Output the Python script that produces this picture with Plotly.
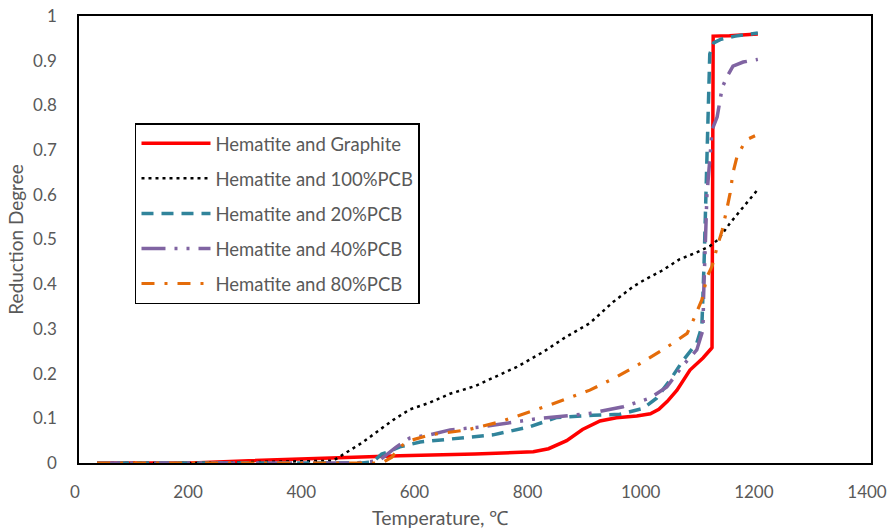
import plotly.graph_objects as go

# Temperature (°C) and reduction degree for each mixture
t_graphite = [32, 200, 300, 391, 449, 567, 700, 803, 830, 862, 890, 921, 950, 986, 1010, 1025,
              1040, 1057, 1080, 1103, 1117, 1119, 1121, 1150, 1200]
y_graphite = [0, 0, 0.005, 0.009, 0.012, 0.016, 0.02, 0.025, 0.032, 0.05, 0.075, 0.094, 0.101,
              0.105, 0.11, 0.12, 0.138, 0.163, 0.208, 0.235, 0.255, 0.258, 0.955, 0.956, 0.96]

t_pcb100 = [32, 200, 300, 400, 449, 500, 555, 585, 620, 656, 700, 774, 820, 862, 903, 944, 980,
            1000, 1030, 1062, 1090, 1115, 1130, 1151, 1175, 1200]
y_pcb100 = [0, 0, 0.002, 0.003, 0.005, 0.045, 0.096, 0.12, 0.135, 0.155, 0.172, 0.215, 0.248,
            0.283, 0.313, 0.36, 0.395, 0.41, 0.43, 0.456, 0.47, 0.485, 0.5, 0.537, 0.575, 0.612]

t_pcb20 = [32, 200, 400, 500, 520, 535, 545, 567, 603, 656, 732, 797, 845, 909, 956, 997, 1021,
           1045, 1068, 1092, 1101, 1105, 1108, 1112, 1115, 1122, 1135, 1160, 1200]
y_pcb20 = [0, 0, 0, 0, 0.003, 0.02, 0.024, 0.036, 0.047, 0.054, 0.063, 0.081, 0.102, 0.107, 0.109,
           0.122, 0.145, 0.186, 0.23, 0.268, 0.305, 0.45, 0.6, 0.8, 0.915, 0.94, 0.948, 0.955, 0.962]

t_pcb40 = [32, 200, 400, 490, 530, 560, 585, 620, 656, 714, 803, 903, 962, 1009, 1039, 1068, 1092,
           1103, 1104, 1106, 1110, 1115, 1119, 1128, 1137, 1145, 1156, 1174, 1200]
y_pcb40 = [0, 0, 0, 0, 0.005, 0.035, 0.056, 0.063, 0.074, 0.081, 0.098, 0.111, 0.126, 0.145, 0.17,
           0.219, 0.253, 0.298, 0.37, 0.47, 0.6, 0.678, 0.745, 0.774, 0.84, 0.863, 0.888, 0.897, 0.903]

t_pcb80 = [32, 200, 400, 535, 553, 567, 585, 620, 686, 744, 833, 903, 951, 997, 1045, 1075, 1086,
           1101, 1110, 1119, 1128, 1137, 1146, 1151, 1156, 1163, 1174, 1183, 1195]
y_pcb80 = [0, 0, 0, 0, 0.013, 0.036, 0.05, 0.063, 0.074, 0.092, 0.13, 0.163, 0.193, 0.226, 0.264,
           0.29, 0.32, 0.365, 0.416, 0.44, 0.483, 0.521, 0.573, 0.604, 0.649, 0.685, 0.711, 0.725, 0.732]

series_names = ["Hematite and Graphite", "Hematite and 100%PCB", "Hematite and 20%PCB",
                "Hematite and 40%PCB", "Hematite and 80%PCB"]

x_ticks = [0, 200, 400, 600, 800, 1000, 1200, 1400]
y_ticks = [0, 0.1, 0.2, 0.3, 0.4, 0.5, 0.6, 0.7, 0.8, 0.9, 1]
y_tick_text = ["0", "0.1", "0.2", "0.3", "0.4", "0.5", "0.6", "0.7", "0.8", "0.9", "1"]

styles = [
    dict(color="#FF0000", width=3.5, dash="solid"),
    dict(color="#000000", width=2.5, dash="3px,4px"),
    dict(color="#31849B", width=3.5, dash="12px,8px"),
    dict(color="#8064A2", width=3.5, dash="24px,9px,3px,9px,3px,9px"),
    dict(color="#E46C0A", width=3.2, dash="13px,10px,3px,10px"),
]

data = [(t_graphite, y_graphite), (t_pcb100, y_pcb100), (t_pcb20, y_pcb20),
        (t_pcb40, y_pcb40), (t_pcb80, y_pcb80)]

FONT = "Lato"
GREY = "#595959"
TICK_FS = 17
LEG_FS = 18.5

fig = go.Figure()
for i, ((tx, ty), name, st) in enumerate(zip(data, series_names, styles)):
    fig.add_trace(go.Scatter(
        x=tx, y=ty, mode="lines", name=name, legendgroup=f"g{i}",
        line=dict(color=st["color"], width=st["width"], dash=st["dash"]),
    ))

fig.update_layout(
    width=888, height=530,
    margin=dict(l=79, r=17, t=16, b=67, autoexpand=False),
    paper_bgcolor="white", plot_bgcolor="white",
    font=dict(family=FONT, color=GREY, size=TICK_FS),
    showlegend=True,
    legend=dict(
        x=0.0707, y=0.76, xanchor="left", yanchor="top",
        bgcolor="white", bordercolor="#000000", borderwidth=1.5,
        font=dict(family=FONT, size=LEG_FS, color=GREY),
        tracegroupgap=8, itemwidth=69,
    ),
    xaxis=dict(
        range=[0, 1400], tickvals=x_ticks, ticktext=[str(v) for v in x_ticks],
        showgrid=False, zeroline=False, showline=True, linecolor="#000000", linewidth=1.5,
        mirror=True, ticks="", ticklabelstandoff=13, ticklabelshift=-4,
        ticklabeloverflow="allow", automargin=False,
        tickfont=dict(family=FONT, size=TICK_FS, color=GREY),
    ),
    yaxis=dict(
        range=[0, 1], tickvals=y_ticks, ticktext=y_tick_text,
        showgrid=False, zeroline=False, showline=True, linecolor="#000000", linewidth=1.5,
        mirror=True, ticks="", ticklabelstandoff=17, automargin=False,
        tickfont=dict(family=FONT, size=TICK_FS, color=GREY),
        title=dict(text="Reduction Degree", font=dict(family=FONT, size=19, color=GREY), standoff=4),
    ),
    annotations=[dict(
        text="Temperature, ℃", xref="paper", yref="paper", x=0.456, y=-0.123,
        xanchor="center", yanchor="middle", showarrow=False,
        font=dict(family=FONT, size=19.5, color=GREY),
    )],
)

fig.write_html("out.html")
